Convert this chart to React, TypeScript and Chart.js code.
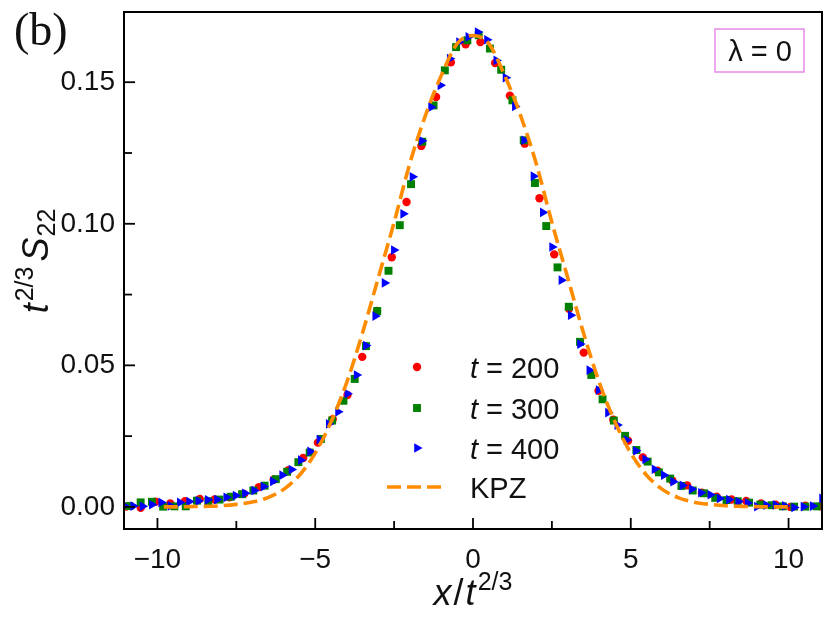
import React, { useEffect, useRef } from "react";
import { Chart, registerables } from "chart.js";
import { drawPoint } from "chart.js/helpers";

Chart.register(...registerables);

// t = 200 (red circles)
const t200X = [
  -10.998, -10.53, -10.062, -9.594, -9.126, -8.658, -8.19, -7.722, -7.254, -6.786, -6.318, -5.85,
  -5.382, -4.914, -4.446, -3.978, -3.51, -3.042, -2.574, -2.106, -1.638, -1.17, -0.702, -0.234,
  0.234, 0.702, 1.17, 1.638, 2.106, 2.574, 3.042, 3.51, 3.978, 4.446, 4.914, 5.382,
  5.85, 6.318, 6.786, 7.254, 7.722, 8.19, 8.658, 9.126, 9.594, 10.062, 10.53, 10.998,
];
const t200Y = [
  0.0001, -0.0003, 0.0018, 0.0012, 0.002, 0.0028, 0.0026, 0.0034, 0.0046, 0.007, 0.0096, 0.013,
  0.0173, 0.0227, 0.031, 0.0395, 0.053, 0.0692, 0.0882, 0.1077, 0.1275, 0.1448, 0.157, 0.1634,
  0.1642, 0.1568, 0.1452, 0.1283, 0.109, 0.0892, 0.07, 0.0545, 0.041, 0.0308, 0.0234, 0.0175,
  0.0128, 0.0093, 0.0076, 0.005, 0.0036, 0.0026, 0.0021, 0.0012, 0.0008, 0.0, 0.0004, 0.0002,
];

// t = 300 (green squares)
const t300X = [
  -10.889, -10.532, -10.175, -9.818, -9.461, -9.104, -8.747, -8.39, -8.033, -7.676, -7.319,
  -6.962, -6.605, -6.248, -5.891, -5.534, -5.177, -4.82, -4.463, -4.106, -3.749, -3.392,
  -3.035, -2.678, -2.321, -1.964, -1.607, -1.25, -0.893, -0.536, -0.179,
  0.179, 0.536, 0.893, 1.25, 1.607, 1.964, 2.321, 2.678, 3.035, 3.392, 3.749,
  4.106, 4.463, 4.82, 5.177, 5.534, 5.891, 6.248, 6.605, 6.962, 7.319, 7.676,
  8.033, 8.39, 8.747, 9.104, 9.461, 9.818, 10.175, 10.532, 10.889,
];
const t300Y = [
  0.0003, 0.0016, 0.0018, 0.0001, 0.0002, 0.0002, 0.0022, 0.002, 0.0026, 0.0036, 0.0045,
  0.0058, 0.0075, 0.0098, 0.0124, 0.0158, 0.0192, 0.024, 0.0305, 0.0375, 0.0452, 0.0568,
  0.0692, 0.0834, 0.0995, 0.114, 0.129, 0.1418, 0.1542, 0.1624, 0.1648,
  0.1666, 0.1619, 0.1544, 0.1436, 0.1295, 0.1144, 0.0992, 0.0846, 0.0707, 0.0583, 0.0466,
  0.038, 0.0305, 0.0251, 0.0201, 0.016, 0.0122, 0.01, 0.0074, 0.0058, 0.0048, 0.0032,
  0.0024, 0.002, 0.0015, 0.0008, 0.0006, 0.0002, 0.0001, 0.0001, 0.0002,
];

// t = 400 (blue triangles)
const t400X = [
  -11.0625, -10.7675, -10.4725, -10.1775, -9.8825, -9.5875, -9.2925, -8.9975, -8.7025, -8.4075,
  -8.1125, -7.8175, -7.5225, -7.2275, -6.9325, -6.6375, -6.3425, -6.0475, -5.7525, -5.4575,
  -5.1625, -4.8675, -4.5725, -4.2775, -3.9825, -3.6875, -3.3925, -3.0975, -2.8025, -2.5075,
  -2.2125, -1.9175, -1.6225, -1.3275, -1.0325, -0.7375, -0.4425, -0.1475,
  0.1475, 0.4425, 0.7375, 1.0325, 1.3275, 1.6225, 1.9175, 2.2125, 2.5075, 2.8025,
  3.0975, 3.3925, 3.6875, 3.9825, 4.2775, 4.5725, 4.8675, 5.1625, 5.4575, 5.7525,
  6.0475, 6.3425, 6.6375, 6.9325, 7.2275, 7.5225, 7.8175, 8.1125, 8.4075, 8.7025,
  8.9975, 9.2925, 9.5875, 9.8825, 10.1775, 10.4725, 10.7675, 11.0625,
];
const t400Y = [
  0.0004, 0.0003, 0.0002, 0.0008, 0.0016, 0.0004, 0.0016, 0.0019, 0.0021, 0.0025,
  0.0026, 0.0034, 0.004, 0.0048, 0.0058, 0.0072, 0.009, 0.0112, 0.0132, 0.0165,
  0.0196, 0.0238, 0.0293, 0.0336, 0.04, 0.0466, 0.057, 0.0674, 0.0791, 0.0907,
  0.1035, 0.1166, 0.1293, 0.1412, 0.1489, 0.1583, 0.1642, 0.166,
  0.1677, 0.165, 0.1577, 0.1516, 0.1415, 0.1295, 0.1168, 0.104, 0.0918, 0.0801,
  0.0677, 0.0575, 0.0483, 0.0413, 0.0333, 0.0289, 0.0236, 0.0198, 0.0168, 0.0133,
  0.0112, 0.0089, 0.0076, 0.0063, 0.005, 0.0043, 0.003, 0.0026, 0.0019, 0.0014,
  0.0001, 0.0006, 0.0007, 0.0004, -0.0002, 0.0001, 0.0003, 0.003,
];

// KPZ scaling curve (orange dashed)
const kpzX = [
  -9.8, -9.5, -9, -8.5, -8, -7.5, -7, -6.5, -6, -5.5, -5, -4.5, -4, -3.5, -3, -2.5, -2, -1.5, -1, -0.5,
  0, 0.5, 1, 1.5, 2, 2.5, 3, 3.5, 4, 4.5, 5, 5.5, 6, 6.5, 7, 7.5, 8, 8.5, 9, 9.5, 10,
];
const kpzY = [
  0, 0, 0.0001, 0.0002, 0.0004, 0.0009, 0.0017, 0.0033, 0.0062, 0.0112, 0.019, 0.03, 0.044, 0.0615,
  0.081, 0.1005, 0.1214, 0.1385, 0.1525, 0.1636, 0.1665, 0.1636, 0.1525, 0.1385, 0.1214, 0.1005,
  0.081, 0.0615, 0.044, 0.03, 0.019, 0.0112, 0.0062, 0.0033, 0.0017, 0.0009, 0.0004, 0.0002,
  0.0001, 0, 0,
];

const xTickValues = [-10, -5, 0, 5, 10];
const xTickLabels = ["\u221210", "\u22125", "0", "5", "10"];
const xMinorTicks = [-7.5, -2.5, 2.5, 7.5];
const yTickValues = [0, 0.05, 0.1, 0.15];
const yTickLabels = ["0.00", "0.05", "0.10", "0.15"];
const yMinorTicks = [0.025, 0.075, 0.125];

const FONT = "'Liberation Sans', Arial, sans-serif";

const toPoints = (xs: number[], ys: number[]) => xs.map((x, i) => ({ x, y: ys[i] }));

type Part = { t: string; size: number; italic?: boolean; dy?: number; gap?: number };

const drawParts = (ctx: CanvasRenderingContext2D, parts: Part[], x: number, y: number, align: "left" | "center") => {
  const widths = parts.map((p) => {
    ctx.font = `${p.italic ? "italic " : ""}${p.size}px ${FONT}`;
    return ctx.measureText(p.t).width + (p.gap || 0);
  });
  const total = widths.reduce((a, b) => a + b, 0);
  let cx = align === "center" ? x - total / 2 : x;
  parts.forEach((p, i) => {
    ctx.font = `${p.italic ? "italic " : ""}${p.size}px ${FONT}`;
    ctx.fillText(p.t, cx, y + (p.dy || 0));
    cx += widths[i];
  });
};

const decorPlugin = {
  id: "decor",
  afterDraw(chart: any) {
    const { ctx, chartArea: a, scales } = chart;
    ctx.save();
    // frame
    ctx.strokeStyle = "#000";
    ctx.lineWidth = 2;
    ctx.strokeRect(a.left, a.top, a.right - a.left, a.bottom - a.top);
    // inward ticks
    const tick = (x1: number, y1: number, x2: number, y2: number) => {
      ctx.beginPath();
      ctx.moveTo(x1, y1);
      ctx.lineTo(x2, y2);
      ctx.stroke();
    };
    ctx.lineWidth = 1.8;
    xTickValues.forEach((v) => {
      const px = scales.x.getPixelForValue(v);
      tick(px, a.bottom, px, a.bottom - 11);
    });
    xMinorTicks.forEach((v) => {
      const px = scales.x.getPixelForValue(v);
      tick(px, a.bottom, px, a.bottom - 8);
    });
    yTickValues.forEach((v) => {
      const py = scales.y.getPixelForValue(v);
      tick(a.left, py, a.left + 11, py);
    });
    yMinorTicks.forEach((v) => {
      const py = scales.y.getPixelForValue(v);
      tick(a.left, py, a.left + 8, py);
    });

    ctx.fillStyle = "#111";
    ctx.textBaseline = "alphabetic";
    // x axis title
    drawParts(
      ctx,
      [
        { t: "x", size: 36, italic: true, gap: 2 },
        { t: "/", size: 36, gap: 2 },
        { t: "t", size: 36, italic: true, gap: 2 },
        { t: "2/3", size: 25, dy: -15 },
      ],
      (a.left + a.right) / 2,
      605,
      "center"
    );
    // y axis title
    ctx.save();
    ctx.translate(48, 261);
    ctx.rotate(-Math.PI / 2);
    drawParts(
      ctx,
      [
        { t: "t", size: 36, italic: true, gap: 2 },
        { t: "2/3", size: 25, dy: -15, gap: 5 },
        { t: "S", size: 36, italic: true, gap: 1 },
        { t: "22", size: 25, dy: 7 },
      ],
      0,
      0,
      "center"
    );
    ctx.restore();

    // panel label
    ctx.font = "46px 'Liberation Serif', serif";
    ctx.fillText("(b)", 14, 45);

    // lambda box
    ctx.strokeStyle = "#e88ae8";
    ctx.lineWidth = 1.5;
    ctx.strokeRect(715, 29, 89, 43);
    drawParts(
      ctx,
      [
        { t: "\u03bb", size: 29, gap: 8 },
        { t: "=", size: 29, gap: 8 },
        { t: "0", size: 29 },
      ],
      760,
      61,
      "center"
    );

    // legend
    const rows = [367, 408, 448, 487];
    chart.data.datasets.forEach((ds: any, i: number) => {
      const y = rows[i];
      if (ds.showLine) {
        ctx.strokeStyle = ds.borderColor;
        ctx.lineWidth = ds.borderWidth;
        ctx.setLineDash(ds.borderDash);
        tick(387, y, 446, y);
        ctx.setLineDash([]);
        ctx.fillStyle = "#111";
        drawParts(ctx, [{ t: ds.label, size: 29 }], 470, y + 11, "left");
      } else {
        ctx.fillStyle = ds.backgroundColor;
        drawPoint(
          ctx,
          { pointStyle: ds.pointStyle, radius: ds.pointRadius, rotation: ds.rotation || 0, borderWidth: 0 },
          417,
          y
        );
        ctx.fillStyle = "#111";
        drawParts(
          ctx,
          [
            { t: "t", size: 29, italic: true, gap: 8 },
            { t: "=", size: 29, gap: 8 },
            { t: ds.label.replace("t = ", ""), size: 29 },
          ],
          470,
          y + 11,
          "left"
        );
      }
    });
    ctx.restore();
  },
};

export default function App() {
  const canvasRef = useRef<HTMLCanvasElement>(null);

  useEffect(() => {
    document.body.style.margin = "0";
    if (!canvasRef.current) return;
    const chart = new Chart(canvasRef.current, {
      type: "scatter",
      data: {
        datasets: [
          {
            label: "t = 200",
            data: toPoints(t200X, t200Y),
            pointStyle: "circle",
            pointRadius: 4.2,
            backgroundColor: "#ff0000",
            borderWidth: 0,
            order: 4,
          },
          {
            label: "t = 300",
            data: toPoints(t300X, t300Y),
            pointStyle: "rect",
            pointRadius: 5.6,
            backgroundColor: "#008000",
            borderWidth: 0,
            order: 3,
          },
          {
            label: "t = 400",
            data: toPoints(t400X, t400Y),
            pointStyle: "triangle",
            rotation: 90,
            pointRadius: 5.6,
            backgroundColor: "#0000ff",
            borderWidth: 0,
            order: 2,
          },
          {
            label: "KPZ",
            data: toPoints(kpzX, kpzY),
            showLine: true,
            pointRadius: 0,
            borderColor: "#ff8c00",
            borderWidth: 3.6,
            borderDash: [14, 6],
            cubicInterpolationMode: "monotone",
            order: 1,
          } as any,
        ],
      },
      options: {
        animation: false,
        responsive: true,
        maintainAspectRatio: false,
        layout: { padding: { top: 12, right: 8, left: 0, bottom: 0 } },
        plugins: { legend: { display: false }, tooltip: { enabled: false } },
        scales: {
          x: {
            type: "linear",
            min: -11.06,
            max: 11.06,
            grid: { display: false, drawTicks: false },
            border: { display: false },
            afterBuildTicks: (scale: any) => {
              scale.ticks = xTickValues.map((value) => ({ value }));
            },
            afterFit: (scale: any) => {
              scale.height = 94;
              scale.paddingLeft = 0;
              scale.paddingRight = 0;
            },
            ticks: {
              padding: 14,
              color: "#111",
              font: { family: FONT, size: 28 },
              maxRotation: 0,
              callback: (_v: any, i: number) => xTickLabels[i],
            },
          },
          y: {
            type: "linear",
            min: -0.0078,
            max: 0.1748,
            grid: { display: false, drawTicks: false },
            border: { display: false },
            afterBuildTicks: (scale: any) => {
              scale.ticks = yTickValues.map((value) => ({ value }));
            },
            afterFit: (scale: any) => {
              scale.width = 124;
              scale.paddingTop = 0;
              scale.paddingBottom = 0;
            },
            ticks: {
              padding: 9,
              color: "#111",
              font: { family: FONT, size: 28 },
              callback: (_v: any, i: number) => yTickLabels[i],
            },
          },
        },
      },
      plugins: [decorPlugin],
    });
    return () => chart.destroy();
  }, []);

  return (
    <div style={{ position: "relative", width: 830, height: 623 }}>
      <canvas ref={canvasRef} />
    </div>
  );
}
